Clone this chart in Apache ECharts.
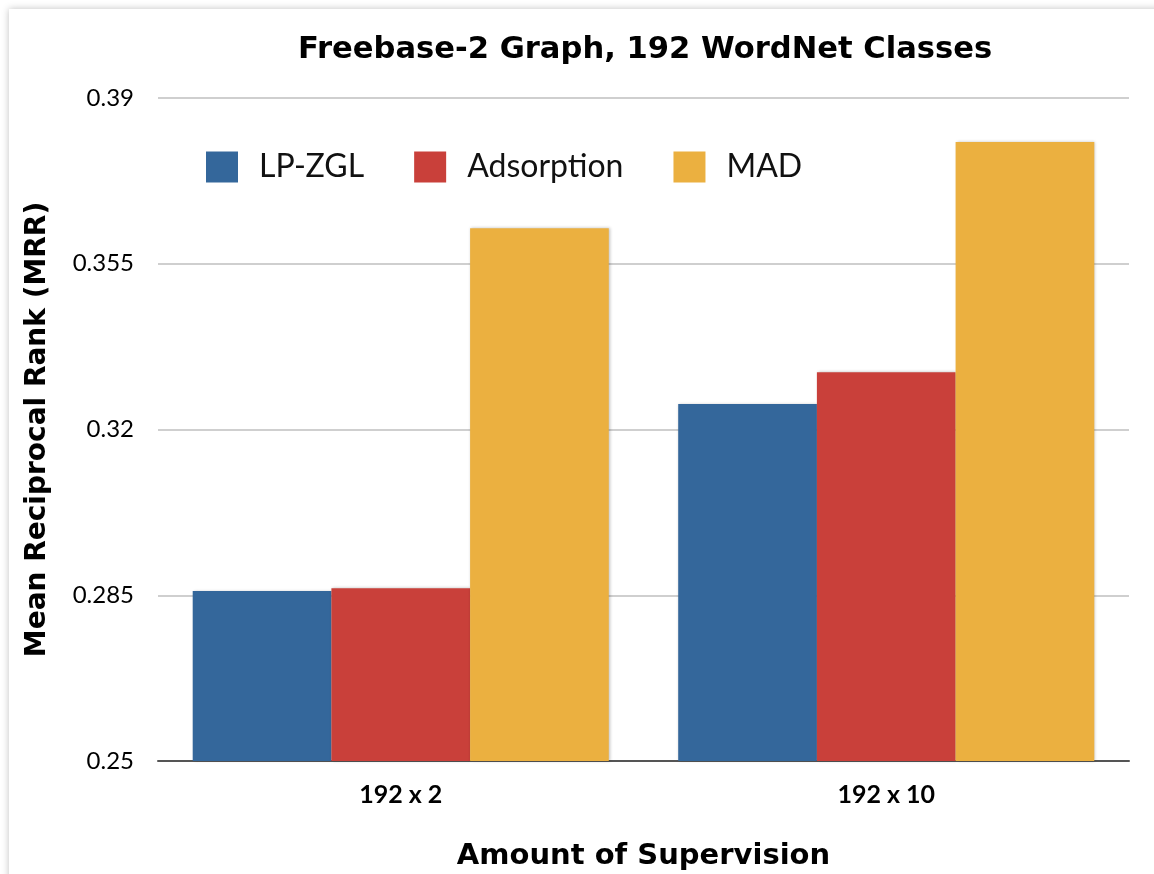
<!DOCTYPE html>
<html>
<head>
<meta charset="utf-8">
<script src="https://cdn.jsdelivr.net/npm/echarts@6/dist/echarts.min.js"></script>
<style>
    html, body { margin: 0; padding: 0; background: #fff; }
    .frame { position: absolute; left: 9px; top: 9px; width: 1160px; height: 880px; box-shadow: 0 0 7px rgba(0,0,0,0.25); }
    #chart { position: absolute; left: 0; top: 0; width: 1154px; height: 874px; }
</style>
</head>
<body>
<div class="frame"></div>
<div id="chart"></div>
<script>
// 数据
var categories = ['192 x 2', '192 x 10'];
var seriesNames = ['LP-ZGL', 'Adsorption', 'MAD'];
var lpzgl = [0.2859, 0.3254];
var adsorption = [0.2865, 0.3321];
var mad = [0.3625, 0.3807];
var colors = ['#34679b', '#c9403a', '#ebb040'];

var heavy = 'DejaVu Sans';
var myChart = echarts.init(document.getElementById('chart'));
var barStyle = function (c) {
    return {
        color: c,
        shadowBlur: 3,
        shadowColor: 'rgba(0,0,0,0.25)',
        shadowOffsetX: 1
    };
};
var option = {
    backgroundColor: 'transparent',
    textStyle: { fontFamily: 'Lato' },
    title: {
        text: 'Freebase-2 Graph, 192 WordNet Classes',
        left: 293,
        top: 30,
        textStyle: { fontSize: 30.6, fontWeight: 'bold', color: '#000', fontFamily: heavy }
    },
    legend: {
        data: seriesNames,
        left: 201,
        top: 146,
        itemWidth: 32,
        itemHeight: 31,
        itemGap: 50,
        icon: 'rect',
        textStyle: { fontSize: 32, color: '#111', padding: [0, 0, 0, 16] }
    },
    grid: { left: 158, right: 25, top: 98, bottom: 113, outerBoundsMode: 'none' },
    xAxis: {
        type: 'category',
        data: categories,
        name: 'Amount of Supervision',
        nameLocation: 'middle',
        nameGap: 81,
        nameTextStyle: { fontSize: 29, fontWeight: 'bold', color: '#000', fontFamily: heavy },
        axisTick: { show: false },
        axisLine: { lineStyle: { color: '#555', width: 2 } },
        axisLabel: { fontSize: 25, fontWeight: 'bold', color: '#000', margin: 21, fontFamily: 'Lato' }
    },
    yAxis: {
        type: 'value',
        min: 0.25,
        max: 0.39,
        interval: 0.035,
        name: 'Mean Reciprocal Rank (MRR)',
        nameLocation: 'middle',
        nameGap: 106,
        nameTextStyle: { fontSize: 28, fontWeight: 'bold', color: '#000', fontFamily: heavy },
        axisLine: { show: false },
        axisTick: { show: false },
        splitLine: { lineStyle: { color: '#cfcfcf', width: 2 } },
        axisLabel: {
            fontSize: 24,
            color: '#000',
            margin: 24,
            formatter: function (v) { return String(parseFloat(v.toFixed(3))); }
        }
    },
    series: [
        { name: seriesNames[0], type: 'bar', data: lpzgl, barGap: '0%', barCategoryGap: '14.3%', itemStyle: barStyle(colors[0]) },
        { name: seriesNames[1], type: 'bar', data: adsorption, barGap: '0%', barCategoryGap: '14.3%', itemStyle: barStyle(colors[1]) },
        { name: seriesNames[2], type: 'bar', data: mad, barGap: '0%', barCategoryGap: '14.3%', itemStyle: barStyle(colors[2]) }
    ]
};
myChart.setOption(option);
</script>
</body>
</html>
